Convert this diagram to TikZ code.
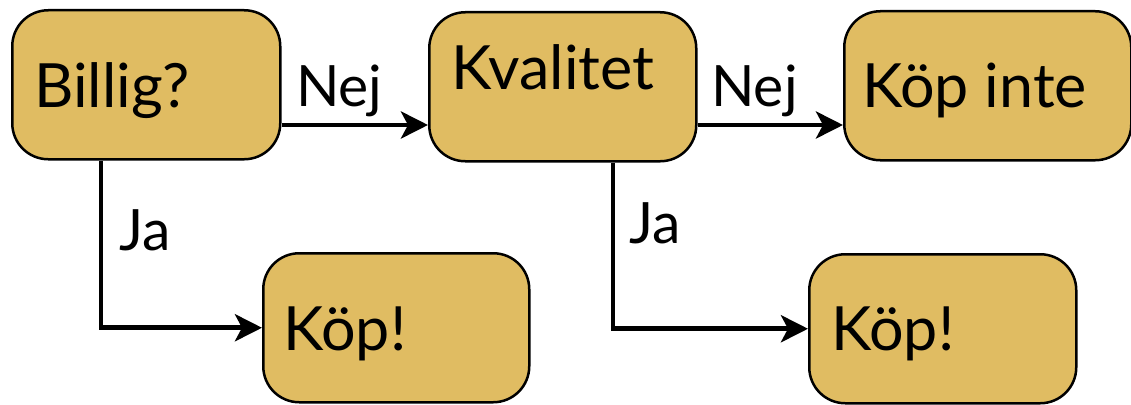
\documentclass[tikz,border=0pt]{standalone}
\usepackage{fontspec}
\setmainfont{Lato}
\usetikzlibrary{arrows.meta,calc}
\definecolor{boxfill}{RGB}{224,188,98}
\tikzset{
  choice/.style={draw=black, line width=2.5pt, fill=boxfill, rounded corners=36pt,
    minimum width=#1, minimum height=149pt, inner sep=0pt, anchor=north west},
  boxtext/.style={anchor=base west, inner sep=0pt, font=\fontsize{61}{70}\selectfont},
  edgetext/.style={anchor=base west, inner sep=0pt, font=\fontsize{57}{66}\selectfont},
  flow/.style={line width=4.8pt, -{Stealth[length=27pt,width=27pt,inset=7pt]}},
}
\begin{document}
\begin{tikzpicture}[x=1pt,y=-1pt]
  \useasboundingbox (0,0) rectangle (1131,404);

  % decision and outcome boxes
  \node[choice=268pt] (billig) at (11,9) {};
  \node[choice=267pt] (kval)   at (428,11) {};
  \node[choice=287pt] (kopinte) at (843,10) {};
  \node[choice=266pt] (kop1)   at (262,252) {};
  \node[choice=267pt] (kop2)   at (808,253) {};

  % box captions
  \node[boxtext] (billig-t)  at (34,107) {Billig?};
  \node[boxtext] (kval-t)    at (451,89) {Kvalitet};
  \node[boxtext] (kopinte-t) at (862,107) {Köp inte};
  \node[boxtext] (kop1-t)    at (283,350) {Köp!};
  \node[boxtext] (kop2-t)    at (831,350) {Köp!};

  % "no" branches
  \draw[flow] (billig.east |- 0,125) -- (kval.west |- 0,125);
  \draw[flow] (kval.east |- 0,125) -- (kopinte.west |- 0,125);
  \node[edgetext] (nej1) at (296,106) {Nej};
  \node[edgetext] (nej2) at (711,106) {Nej};

  % "yes" branches
  \draw[flow] (billig.south -| 101,0) |- (kop1.west);
  \draw[flow] (kval.south -| 613,0) |- (kop2.west);
  \node[edgetext] (ja1) at (119,250) {Ja};
  \node[edgetext] (ja2) at (629,243) {Ja};
\end{tikzpicture}
\end{document}
